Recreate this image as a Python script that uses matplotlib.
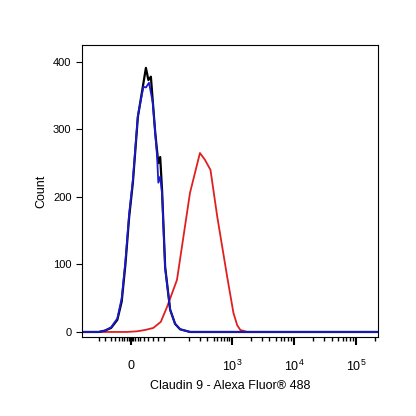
import matplotlib
matplotlib.use("Agg")
import matplotlib.pyplot as plt
plt.rcParams['font.family'] = ['Liberation Sans', 'DejaVu Sans']
plt.rcParams['mathtext.fontset'] = 'custom'
plt.rcParams['mathtext.rm'] = 'Liberation Sans'

# x in decade display units (10^3 -> 3), counts on y
black_x = [0.6, 0.85, 0.95, 1.05, 1.15, 1.22, 1.28, 1.34, 1.40, 1.48, 1.61, 1.65, 1.69, 1.76, 1.81, 1.84, 1.87, 1.92, 2.0, 2.08, 2.16, 2.32, 5.35]
black_y = [0, 0, 2, 6, 18, 45, 100, 170, 221, 318, 391, 373, 378, 295, 250, 259, 210, 96, 33, 12, 4, 0, 0]
blue_x = [0.6, 0.85, 0.95, 1.05, 1.15, 1.22, 1.28, 1.34, 1.40, 1.48, 1.57, 1.61, 1.66, 1.72, 1.79, 1.81, 1.84, 1.87, 1.92, 2.0, 2.08, 2.16, 2.32, 5.35]
blue_y = [0, 0, 2, 7, 20, 50, 105, 175, 225, 320, 363, 362, 369, 340, 260, 221, 230, 205, 94, 33, 12, 4, 0, 0]
red_x = [0.6, 1.3, 1.47, 1.6, 1.73, 1.85, 1.95, 2.11, 2.32, 2.48, 2.56, 2.65, 2.76, 2.92, 3.02, 3.08, 3.13, 3.24, 5.35]
red_y = [0, 0, 1, 3, 6, 15, 37, 77, 206, 265, 255, 240, 170, 81, 28, 10, 3, 0, 0]

tick_pos = [1.37, 3, 4, 5]
tick_lab = [r"$0$", r"$10^3$", r"$10^4$", r"$10^5$"]
minor_pos = [0.85, 0.95, 1.05, 1.12, 1.18, 1.22, 1.26, 1.3, 1.33, 1.35, 1.39, 1.41, 1.44, 1.48, 1.52, 1.58, 1.65, 1.72, 1.8, 1.9,
             2.3, 2.48, 2.6, 2.7, 2.76, 2.82, 2.87, 2.91, 2.95,
             3.3, 3.48, 3.6, 3.7, 3.78, 3.84, 3.9, 3.95,
             4.3, 4.48, 4.6, 4.7, 4.78, 4.84, 4.9, 4.95, 5.3]

fig = plt.figure(figsize=(4.16, 4.16), dpi=100)
ax = fig.add_axes([0.197, 0.19, 0.712, 0.702])
ax.plot(red_x, red_y, color="#e02020", lw=1.3)
ax.plot(black_x, black_y, color="black", lw=1.6)
ax.plot(blue_x, blue_y, color="#1a1ad0", lw=1.3)
ax.set_xlim(0.58, 5.35)
ax.set_ylim(-7.4, 425)
ax.set_yticks([0, 100, 200, 300, 400])
ax.set_xticks(tick_pos)
ax.set_xticklabels(tick_lab)
ax.set_xticks(minor_pos, minor=True)
ax.tick_params(axis="x", which="major", length=6, width=1.5, pad=10, labelsize=9)
ax.tick_params(axis="x", which="minor", length=3, width=1)
ax.tick_params(axis="y", labelsize=8, length=4)
ax.set_xlabel("Claudin 9 - Alexa Fluor® 488", fontsize=9)
ax.set_ylabel("Count", fontsize=9)
fig.savefig("out.png", dpi=100)
